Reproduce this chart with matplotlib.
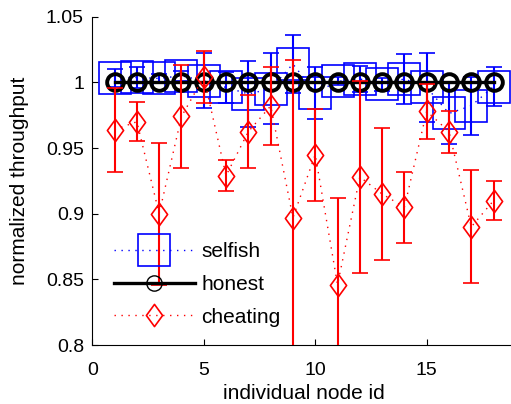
import numpy as np
import matplotlib
matplotlib.use("Agg")
import matplotlib.pyplot as plt
from matplotlib.path import Path
from matplotlib.lines import Line2D

plt.rcParams['font.family'] = ['Liberation Sans', 'DejaVu Sans']

# data
node_id = np.arange(1, 19)
selfish_mean = [1.0035, 1.0037, 1.003, 1.005, 1.0012, 0.9961, 0.9912, 0.995, 1.014,
                0.992, 1.0007, 1.0026, 0.9986, 1.0026, 0.9961, 0.9763, 0.9822, 0.9968]
selfish_err = [0.0067, 0.008, 0.003, 0.004, 0.021, 0.012, 0.025, 0.027, 0.022,
               0.020, 0.003, 0.010, 0.005, 0.019, 0.026, 0.023, 0.022, 0.015]
honest_mean = [1.0] * 18
cheating_mean = [0.964, 0.970, 0.900, 0.974, 1.004, 0.929, 0.9625, 0.982, 0.897,
                 0.945, 0.846, 0.928, 0.915, 0.905, 0.978, 0.9625, 0.890, 0.910]
cheating_err = [0.032, 0.015, 0.054, 0.039, 0.020, 0.012, 0.0275, 0.030, 0.12,
                0.035, 0.066, 0.073, 0.050, 0.027, 0.021, 0.016, 0.043, 0.015]

# matlab-ish diamond (a bit taller than wide)
diamond = Path([(0, 1), (0.73, 0), (0, -1), (-0.73, 0), (0, 1)],
               [Path.MOVETO, Path.LINETO, Path.LINETO, Path.LINETO, Path.CLOSEPOLY])

fig = plt.figure(figsize=(5.11, 4.04), dpi=100)
ax = fig.add_axes([0.1806, 0.146, 0.829, 0.8127])

dots = (0, (1, 4))

ax.errorbar(node_id, selfish_mean, yerr=selfish_err, color='#0000ff', ls=dots, lw=1,
            marker='s', ms=23, mfc='none', mec='#0000ff', mew=1.2,
            ecolor='#0000ff', elinewidth=1.5, capsize=6, capthick=1.5, zorder=2)
ax.plot(node_id, honest_mean, color='k', lw=2.4, marker='o', ms=12, mfc='none',
        mew=2.8, zorder=3)
ax.errorbar(node_id, cheating_mean, yerr=cheating_err, color='#ff0000', ls=dots, lw=1,
            marker=diamond, ms=16, mfc='none', mec='#ff0000', mew=1.2,
            ecolor='#ff0000', elinewidth=1.5, capsize=6, capthick=1.5, zorder=4)

ax.set_xlim(0, 19)
ax.set_ylim(0.8, 1.05)
ax.set_xticks([0, 5, 10, 15])
ax.set_yticks([0.8, 0.85, 0.9, 0.95, 1.0, 1.05])
ax.set_yticklabels(['0.8', '0.85', '0.9', '0.95', '1', '1.05'])
for s in ['top', 'right']:
    ax.spines[s].set_visible(False)
for s in ['left', 'bottom']:
    ax.spines[s].set_linewidth(0.8)
ax.tick_params(direction='in', length=4, width=0.8, labelsize=14)
ax.tick_params(axis='x', pad=12)
ax.tick_params(axis='y', pad=6)
ax.set_xlabel('individual node id', fontsize=15, labelpad=4)
ax.set_ylabel('normalized throughput', fontsize=15, labelpad=12)

handles = [
    Line2D([], [], color='#0000ff', ls=dots, lw=1, marker='s', ms=23, mfc='none', mew=1.2),
    Line2D([], [], color='k', lw=2.4, marker='o', ms=11, mfc='none', mew=1),
    Line2D([], [], color='#ff0000', ls=dots, lw=1, marker=diamond, ms=16, mfc='none', mew=1.2),
]
ax.legend(handles, ['selfish', 'honest', 'cheating'], loc='upper left',
          bbox_to_anchor=(0.026, 0.345), frameon=False, fontsize=15,
          handlelength=3.9, handletextpad=0.3, labelspacing=0.66, borderpad=0)

fig.savefig('out.png', dpi=100)
